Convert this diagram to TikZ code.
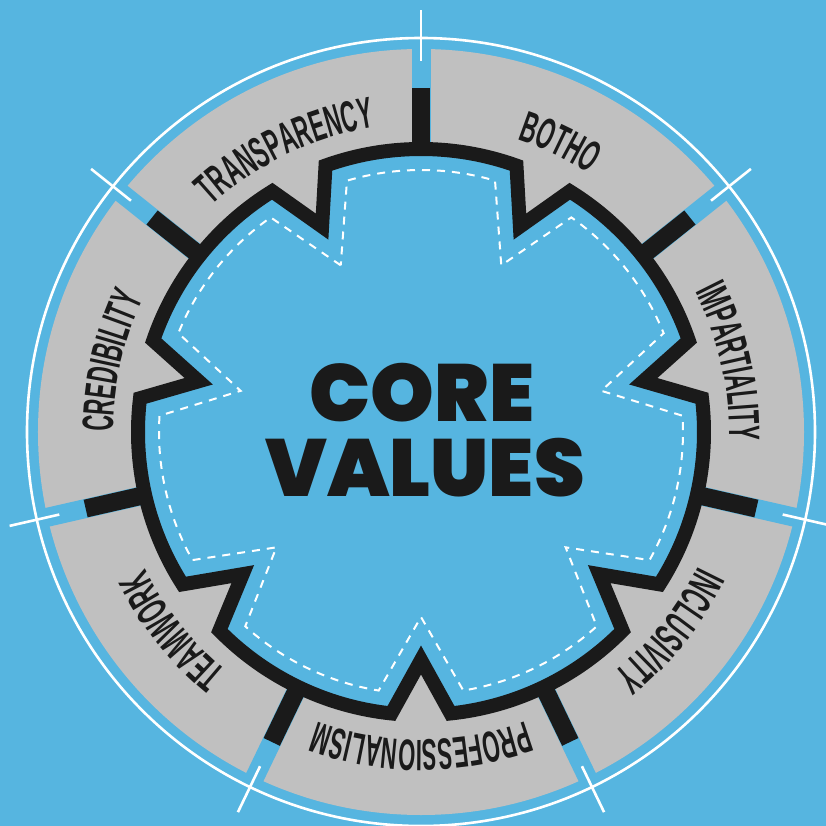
\documentclass[tikz,border=0pt]{standalone}
\usepackage{fontspec}
\usetikzlibrary{decorations.text}
\newfontfamily\lblfamily{Liberation Sans}[FakeStretch=0.5]
\newfontfamily\corefamily{Poppins Black}
\definecolor{bgblue}{RGB}{86,181,224}
\definecolor{ringgray}{RGB}{192,192,192}
\definecolor{inkblack}{RGB}{26,26,26}
\newcommand\lblfont{\lblfamily\bfseries\fontsize{44}{44}\selectfont\color{inkblack}}
\begin{document}
\begin{tikzpicture}[x=1pt,y=1pt,
  gearline/.style={draw=inkblack, line width=14pt, fill=bgblue, line join=miter, miter limit=10},
  dashline/.style={draw=white, line width=2pt, dash pattern=on 8pt off 7pt, line join=miter},
  gapbar/.style={draw=bgblue, line width=19pt},
  sepbar/.style={draw=inkblack, line width=18pt},
  tickline/.style={draw=white, line width=2.6pt},
  corestyle/.style={font=\corefamily\fontsize{81}{81}\selectfont, text=inkblack, inner sep=0pt, anchor=base}]
\fill[bgblue] (-421pt,-394pt) rectangle (405pt,432pt);
\useasboundingbox (-421pt,-394pt) rectangle (405pt,432pt);
% gray ring
\fill[ringgray] (0,0) circle[radius=383pt];
% blue gaps between sectors
\foreach \s in {0,...,6}
  \draw[gapbar] ({90+51.4286*\s}:260pt) -- ({90+51.4286*\s}:387pt);
% gear outline
\path[gearline] ({115.7143}:228pt)
  \foreach \i [evaluate=\i as \c using {115.7143+51.4286*\i}] in {0,...,5} {
    -- ({\c+6}:283pt)
    arc[start angle={\c+6}, end angle={\c+51.4286-6}, radius=283pt]
    -- ({\c+51.4286}:228pt)
  }
  -- ({115.7143+51.4286*6+6}:283pt)
  arc[start angle={115.7143+51.4286*6+6}, end angle={115.7143+360-6}, radius=283pt]
  -- cycle;
% black separators
\foreach \s in {0,...,6}
  \draw[sepbar] ({90+51.4286*\s}:280pt) -- ({90+51.4286*\s}:344pt);
% dashed inner gear
\path[dashline] ({115.7143}:185pt)
  \foreach \i [evaluate=\i as \c using {115.7143+51.4286*\i}] in {0,...,5} {
    -- ({\c+9.3}:262pt)
    arc[start angle={\c+9.3}, end angle={\c+51.4286-9.3}, radius=262pt]
    -- ({\c+51.4286}:185pt)
  }
  -- ({115.7143+51.4286*6+9.3}:262pt)
  arc[start angle={115.7143+51.4286*6+9.3}, end angle={115.7143+360-9.3}, radius=262pt]
  -- cycle;
% labels
\path[decorate, decoration={text along path, text align=center, text={|\lblfont|TRANSPARENCY}}]
  ({115.7143+32}:308pt) arc[start angle={115.7143+32}, end angle={115.7143-32}, radius=308pt];
\path[decorate, decoration={text along path, text align=center, text={|\lblfont|BOTHO}}]
  ({64.2857+32}:308pt) arc[start angle={64.2857+32}, end angle={64.2857-32}, radius=308pt];
\path[decorate, decoration={text along path, text align=center, text={|\lblfont|IMPARTIALITY}}]
  ({12.8571+32}:308pt) arc[start angle={12.8571+32}, end angle={12.8571-32}, radius=308pt];
\path[decorate, decoration={text along path, text align=center, text={|\lblfont|INCLUSIVITY}}]
  ({-38.5714+32}:308pt) arc[start angle={-38.5714+32}, end angle={-38.5714-32}, radius=308pt];
\path[decorate, decoration={text along path, text align=center, text={|\lblfont|PROFESSIONALISM}}]
  ({-90+32}:308pt) arc[start angle={-90+32}, end angle={-90-32}, radius=308pt];
\path[decorate, decoration={text along path, text align=center, text={|\lblfont|TEAMWORK}}]
  ({-141.4286+32}:308pt) arc[start angle={-141.4286+32}, end angle={-141.4286-32}, radius=308pt];
\path[decorate, decoration={text along path, text align=center, text={|\lblfont|CREDIBILITY}}]
  ({167.1429+32}:308pt) arc[start angle={167.1429+32}, end angle={167.1429-32}, radius=308pt];
% centre title
\node[corestyle] (core) at (1pt,10pt) {CORE};
\node[corestyle] (values) at (4pt,-65pt) {VALUES};
% white circle and ticks
\draw[tickline] (0,0) circle[radius=394pt];
\foreach \s in {0,...,6}
  \draw[tickline] ({90+51.4286*\s}:371pt) -- ({90+51.4286*\s}:422pt);
\end{tikzpicture}
\end{document}
